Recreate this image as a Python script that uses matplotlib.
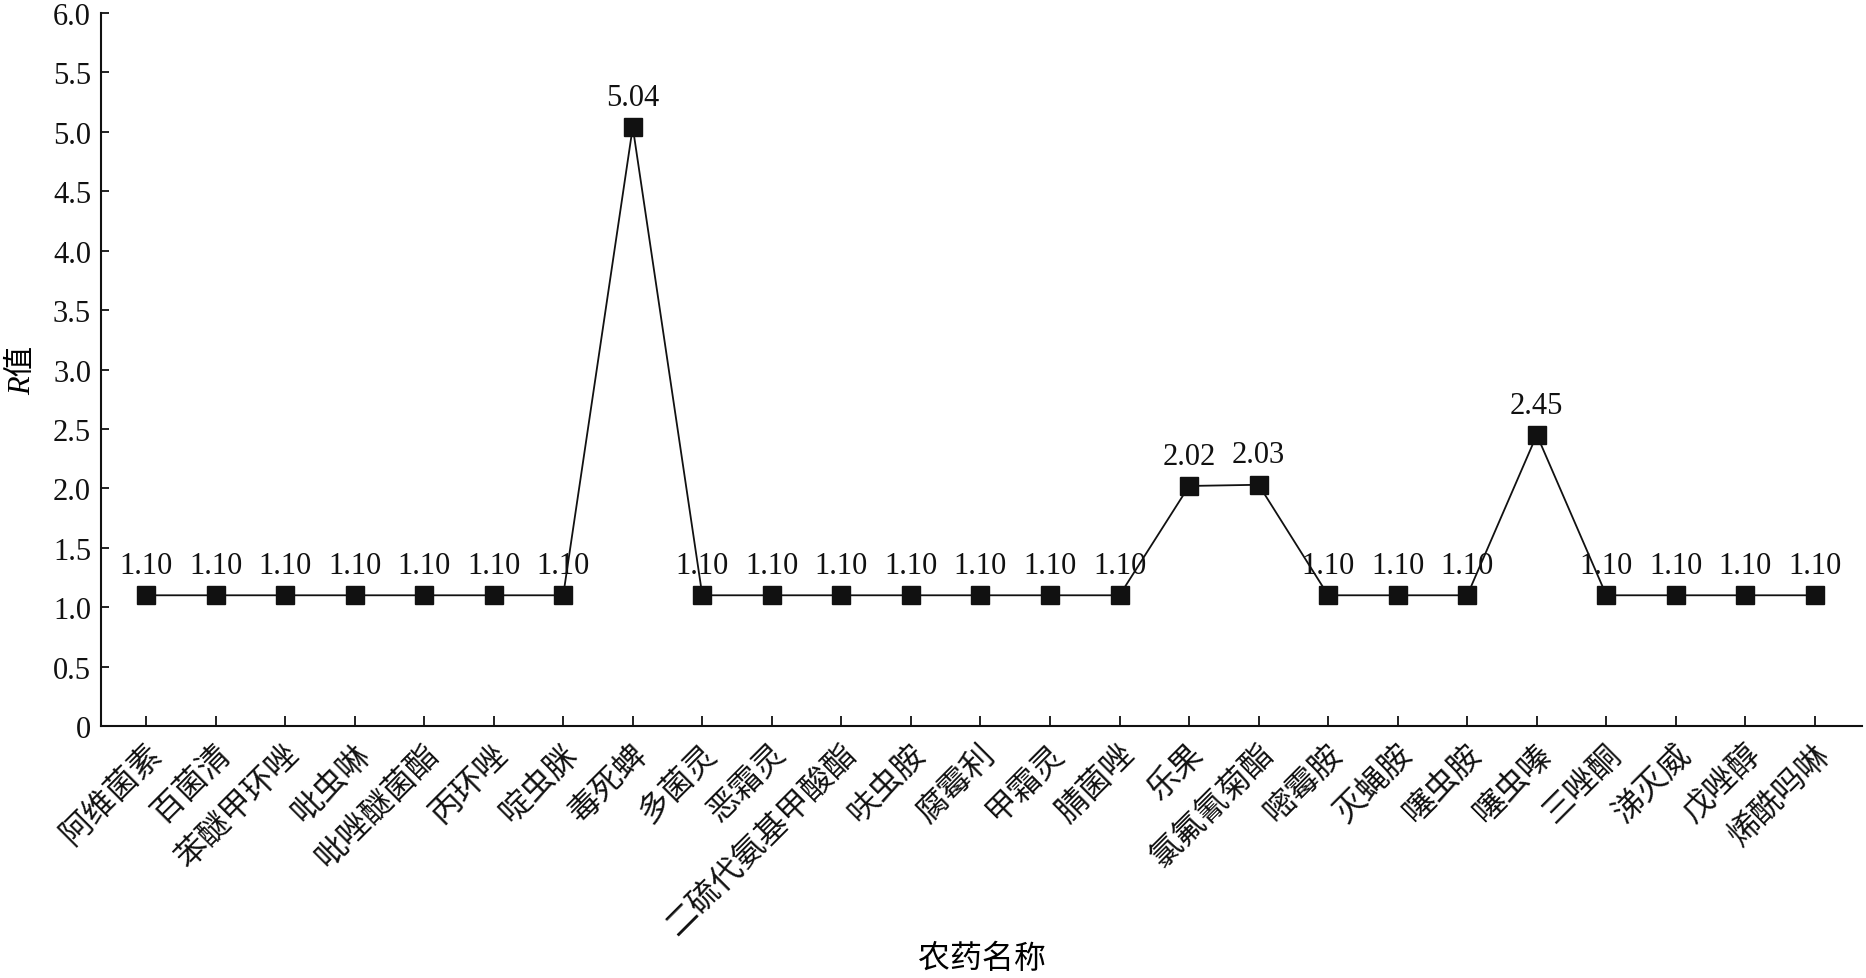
import matplotlib
matplotlib.use("Agg")
import matplotlib.pyplot as plt
from matplotlib.ticker import FuncFormatter

plt.rcParams['font.family'] = ['Liberation Serif', 'Noto Sans CJK SC']

pesticides = ["阿维菌素", "百菌清", "苯醚甲环唑", "吡虫啉", "吡唑醚菌酯", "丙环唑", "啶虫脒",
              "毒死蜱", "多菌灵", "恶霜灵", "二硫代氨基甲酸酯", "呋虫胺", "腐霉利", "甲霜灵",
              "腈菌唑", "乐果", "氯氟氰菊酯", "嘧霉胺", "灭蝇胺", "噻虫胺", "噻虫嗪", "三唑酮",
              "涕灭威", "戊唑醇", "烯酰吗啉"]
r_values = [1.10, 1.10, 1.10, 1.10, 1.10, 1.10, 1.10,
            5.04, 1.10, 1.10, 1.10, 1.10, 1.10, 1.10,
            1.10, 2.02, 2.03, 1.10, 1.10, 1.10, 2.45, 1.10,
            1.10, 1.10, 1.10]
y_ticks = [0, 0.5, 1.0, 1.5, 2.0, 2.5, 3.0, 3.5, 4.0, 4.5, 5.0, 5.5, 6.0]

fig = plt.figure(figsize=(18.66, 9.79), dpi=100)
ax = fig.add_axes([0.054, 0.2574, 0.944, 0.7283])

x = list(range(len(pesticides)))
ax.plot(x, r_values, color='#111111', linewidth=1.3, marker='s', markersize=13.5,
        markerfacecolor='#111111', markeredgecolor='#111111', zorder=3)

for xi, v in zip(x, r_values):
    ax.annotate(f"{v:.2f}", (xi, v), xytext=(0, 11), textcoords='offset points',
                ha='center', va='bottom', fontsize=22, color='#111111')

ax.set_xlim(-0.65, 24.68)
ax.set_ylim(0, 6.0)
ax.set_yticks(y_ticks)
ax.yaxis.set_major_formatter(FuncFormatter(lambda v, p: "0" if v == 0 else f"{v:.1f}"))
ax.set_xticks(x)
ax.set_xticklabels(pesticides, rotation=45, ha='right', rotation_mode='anchor', fontsize=23)

for lab in ax.get_yticklabels():
    lab.set_fontsize(22)

ax.spines['top'].set_visible(False)
ax.spines['right'].set_visible(False)
for s in ('left', 'bottom'):
    ax.spines[s].set_linewidth(1.5)
    ax.spines[s].set_color('#111111')

ax.tick_params(axis='y', direction='in', length=6, width=1.3, pad=7, colors='#111111')
ax.tick_params(axis='x', direction='in', length=7, width=1.3, pad=9, colors='#111111')

ax.set_xlabel("农药名称", fontsize=23)
ax.set_ylabel("R值", fontsize=22, style='italic')
ax.xaxis.set_label_coords(0.5, -0.305)
ax.yaxis.set_label_coords(-0.036, 0.5)

fig.savefig("out.png", dpi=100)
